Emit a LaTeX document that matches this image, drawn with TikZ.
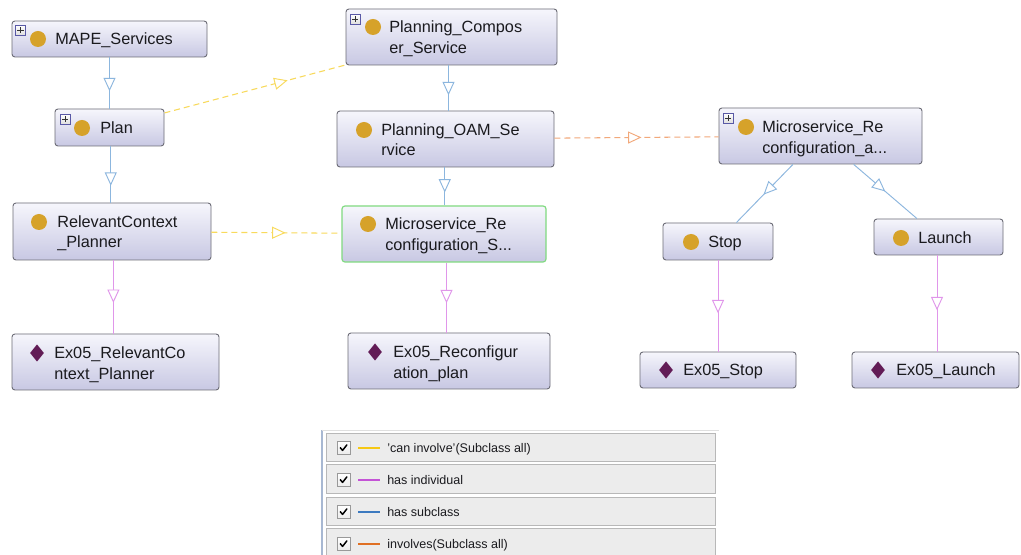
\documentclass[tikz,border=0pt]{standalone}
\usepackage{fontspec}
\setmainfont{Liberation Sans}
\usetikzlibrary{arrows.meta,decorations.markings,shapes.geometric,fit,calc}

\definecolor{boxtop}{RGB}{246,246,252}
\definecolor{boxbot}{RGB}{200,200,227}
\definecolor{boxline}{RGB}{108,108,118}
\definecolor{gold}{RGB}{214,162,42}
\definecolor{plum}{RGB}{98,28,86}
\definecolor{subblue}{RGB}{140,182,222}
\definecolor{indviolet}{RGB}{224,150,234}
\definecolor{canyellow}{RGB}{248,218,92}
\definecolor{invorange}{RGB}{242,168,122}
\definecolor{selgreen}{RGB}{128,218,128}
\definecolor{txt}{RGB}{26,26,30}
\definecolor{rowfill}{RGB}{236,236,236}
\definecolor{rowline}{RGB}{184,184,184}
\definecolor{legyellow}{RGB}{246,200,20}
\definecolor{legviolet}{RGB}{196,84,214}
\definecolor{legblue}{RGB}{60,122,192}
\definecolor{legorange}{RGB}{224,112,36}
\definecolor{panelline}{RGB}{168,184,210}

\newcommand\cbox[6][]{%
  \path (#3,#4) coordinate (#2-nw) (#5,#6) coordinate (#2-se);
  \node[clsbox,#1,fit=(#2-nw)(#2-se)] (#2) {};}
\newcommand\lrow[5]{%
  \path (#2,#3) coordinate (#1-nw) (#4,#5) coordinate (#1-se);
  \node[legrow,fit=(#1-nw)(#1-se)] (#1) {};}

\begin{document}
\begin{tikzpicture}[x=0.75pt,y=-0.75pt,
  clsbox/.style={rectangle,inner sep=0pt,rounded corners=2.2pt,draw=boxline,line width=0.7pt,
    top color=boxtop,bottom color=boxbot},
  selbox/.style={draw=selgreen,line width=0.9pt},
  clsicon/.style={circle,fill=gold,minimum size=12pt,inner sep=0pt},
  diamicon/.style={diamond,fill=plum,minimum width=10.5pt,minimum height=13pt,inner sep=0pt},
  plusicon/.style={rectangle,draw=gray!70!blue,line width=0.4pt,top color=white,bottom color=gray!25,
    minimum size=7.2pt,inner sep=0pt,
    path picture={\draw[line width=0.7pt,black!80]
      ([xshift=-2.3pt]path picture bounding box.center) -- ([xshift=2.3pt]path picture bounding box.center)
      ([yshift=-2.3pt]path picture bounding box.center) -- ([yshift=2.3pt]path picture bounding box.center);}},
  lbl/.style={anchor=base west,inner sep=0pt,text=txt,font=\fontsize{12.2}{14.6}\selectfont},
  tri/.style={postaction={decorate,decoration={markings,
     mark=at position #1 with {\arrow[line width=0.7pt]{Triangle[length=10pt,width=9pt,fill=white]}}}}},
  subcls/.style={draw=subblue,line width=0.7pt,tri=#1},
  indiv/.style={draw=indviolet,line width=0.7pt,tri=#1},
  caninv/.style={draw=canyellow,line width=0.8pt,dash pattern=on 4.5pt off 3pt,tri=#1},
  invol/.style={draw=invorange,line width=0.8pt,dash pattern=on 4.5pt off 3pt,tri=#1},
  legrow/.style={rectangle,inner sep=0pt,draw=rowline,line width=0.7pt,fill=rowfill},
  chk/.style={rectangle,draw=gray!80,line width=0.5pt,top color=white,bottom color=gray!15,
    minimum size=9.5pt,inner sep=0pt,
    path picture={\draw[line width=1.1pt,black,line cap=round,line join=round]
      ([shift={(-2.4pt,0.2pt)}]path picture bounding box.center) --
      ([shift={(-0.7pt,-1.8pt)}]path picture bounding box.center) --
      ([shift={(2.5pt,2.3pt)}]path picture bounding box.center);}},
  legtxt/.style={anchor=base west,inner sep=0pt,text=txt,font=\fontsize{9.4}{11}\selectfont},
  legline/.style={line width=2pt}
]
\useasboundingbox[fill=white] (0,0) rectangle (1021,555);

% ---------- class boxes ----------
\cbox{mape}{12}{21}{207}{57}
\cbox{plan}{55}{109}{164}{146}
\cbox{rc}{13}{203}{211}{260}
\cbox{pc}{346}{9}{557}{65}
\cbox{oam}{337}{111}{554}{167}
\cbox[selbox]{mss}{342}{206}{546}{262}
\cbox{msa}{719}{108}{922}{164}
\cbox{stop}{663}{223}{773}{260}
\cbox{launch}{874}{219}{1003}{255}
\cbox{exstop}{640}{352}{796}{388}
\cbox{exlaunch}{852}{352}{1019}{388}
\cbox{exrc}{12}{334}{219}{390}
\cbox{exrec}{348}{333}{550}{389}

% ---------- icons ----------
\node[plusicon] (p-mape) at (20.5,30) {};
\node[plusicon] (p-plan) at (65,119) {};
\node[plusicon] (p-pc) at (355,19) {};
\node[plusicon] (p-msa) at (728,118) {};

\node[clsicon] (i-mape) at (38,39) {};
\node[clsicon] (i-plan) at (82,128) {};
\node[clsicon] (i-rc) at (39,222) {};
\node[clsicon] (i-pc) at (373,27) {};
\node[clsicon] (i-oam) at (364,130) {};
\node[clsicon] (i-mss) at (368,224) {};
\node[clsicon] (i-msa) at (746,127) {};
\node[clsicon] (i-stop) at (691,242) {};
\node[clsicon] (i-launch) at (901,238) {};
\node[diamicon] (d-exstop) at (666,370) {};
\node[diamicon] (d-exlaunch) at (878,370) {};
\node[diamicon] (d-exrc) at (37,353) {};
\node[diamicon] (d-exrec) at (375,352) {};

% ---------- labels ----------
\node[lbl] (t-mape) at (55,45) {MAPE\_Services};
\node[lbl] (t-plan) at (100,134) {Plan};
\node[lbl] (t-rc1) at (57,228) {RelevantContext};
\node[lbl] (t-rc2) at (57,248) {\_Planner};
\node[lbl] (t-pc1) at (389,33) {Planning\_Compos};
\node[lbl] (t-pc2) at (389,54) {er\_Service};
\node[lbl] (t-oam1) at (381,136) {Planning\_OAM\_Se};
\node[lbl] (t-oam2) at (381,156) {rvice};
\node[lbl] (t-mss1) at (385,230) {Microservice\_Re};
\node[lbl] (t-mss2) at (385,251) {configuration\_S...};
\node[lbl] (t-msa1) at (762,133) {Microservice\_Re};
\node[lbl] (t-msa2) at (762,154) {configuration\_a...};
\node[lbl] (t-stop) at (708,248) {Stop};
\node[lbl] (t-launch) at (918,244) {Launch};
\node[lbl] (t-exstop) at (683,376) {Ex05\_Stop};
\node[lbl] (t-exlaunch) at (896,376) {Ex05\_Launch};
\node[lbl] (t-exrc1) at (54,359) {Ex05\_RelevantCo};
\node[lbl] (t-exrc2) at (54,380) {ntext\_Planner};
\node[lbl] (t-exrec1) at (393,358) {Ex05\_Reconfigur};
\node[lbl] (t-exrec2) at (393,379) {ation\_plan};

% ---------- connectors ----------
\coordinate (m-prc) at ($(plan.south)!0.5!(rc.north)$);
\coordinate (m-po) at ($(pc.south)!0.5!(oam.north)$);
\coordinate (m-om) at ($(oam.south)!0.5!(mss.north)$);
\coordinate (m-rce) at ($(rc.south)!0.4!(exrc.north)$);
\coordinate (m-mse) at ($(mss.south)!0.5!(exrec.north)$);
\coordinate (m-le) at ($(launch.south)!0.5!(exlaunch.north)$);
\draw[subcls=0.66] (mape) -- (plan);
\draw[subcls=0.70] (plan.south -| m-prc) -- (rc.north -| m-prc);
\draw[subcls=0.66] (pc.south -| m-po) -- (oam.north -| m-po);
\draw[subcls=0.66] (oam.south -| m-om) -- (mss.north -| m-om);
\draw[subcls=0.52] (msa) -- (stop);
\draw[subcls=0.50] (msa) -- (launch);
\draw[indiv=0.58] (rc.south -| m-rce) -- (exrc.north -| m-rce);
\draw[indiv=0.58] (mss.south -| m-mse) -- (exrec.north -| m-mse);
\draw[indiv=0.58] (stop) -- (exstop);
\draw[indiv=0.57] (launch.south -| m-le) -- (exlaunch.north -| m-le);
\draw[caninv=0.68] (plan) -- (pc);
\draw[caninv=0.57] (rc) -- (mss);
\draw[invol=0.53] (oam) -- (msa);

% ---------- legend ----------
\draw[panelline,line width=0.8pt] (322,430) -- (322,556);
\draw[gray!25,line width=0.6pt] (322,430) -- (719,430);
\lrow{r1}{326}{433}{715}{461}
\lrow{r2}{326}{464}{715}{493}
\lrow{r3}{326}{497}{715}{525}
\lrow{r4}{326}{528}{715}{560}
\node[chk] (c1) at (343.5,448) {};
\node[chk] (c2) at (343.5,480) {};
\node[chk] (c3) at (343.5,512) {};
\node[chk] (c4) at (343.5,544) {};
\draw[legline,legyellow] (358,448) -- (380,448);
\draw[legline,legviolet] (358,480) -- (380,480);
\draw[legline,legblue] (358,512) -- (380,512);
\draw[legline,legorange] (358,544) -- (380,544);
\node[legtxt] (l1) at (387,452.5) {'can involve'(Subclass all)};
\node[legtxt] (l2) at (387,484.5) {has individual};
\node[legtxt] (l3) at (387,516.5) {has subclass};
\node[legtxt] (l4) at (387,548.5) {involves(Subclass all)};
\end{tikzpicture}
\end{document}
